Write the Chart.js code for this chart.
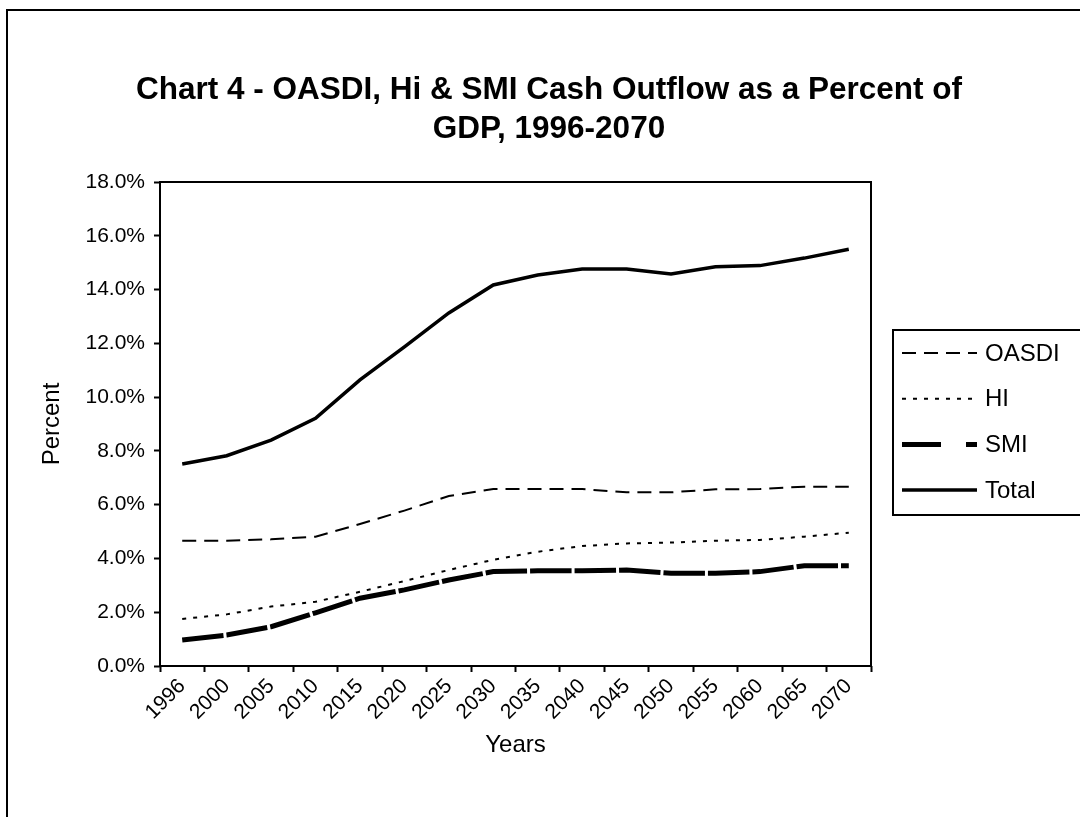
<!DOCTYPE html>
<html>
<head>
<meta charset="utf-8">
<title>Chart 4 - OASDI, Hi &amp; SMI Cash Outflow as a Percent of GDP, 1996-2070</title>
<script src="https://cdn.jsdelivr.net/npm/chart.js@4.4.1/dist/chart.umd.min.js"></script>
<style>
    html, body { margin: 0; padding: 0; background: #fff; }
    #wrap { width: 1080px; height: 817px; }
</style>
</head>
<body>
<div id="wrap"><canvas id="chart" width="1080" height="817"></canvas></div>
<script>
// Values, percent of GDP
const years = ['1996', '2000', '2005', '2010', '2015', '2020', '2025', '2030',
               '2035', '2040', '2045', '2050', '2055', '2060', '2065', '2070'];
const oasdi = [4.66, 4.66, 4.71, 4.81, 5.28, 5.78, 6.32, 6.58, 6.58, 6.58, 6.46, 6.46, 6.57, 6.58, 6.67, 6.67];
const hi    = [1.75, 1.92, 2.21, 2.39, 2.76, 3.16, 3.57, 3.95, 4.25, 4.46, 4.56, 4.59, 4.66, 4.69, 4.81, 4.96];
const smi   = [0.97, 1.15, 1.46, 1.98, 2.52, 2.83, 3.20, 3.51, 3.54, 3.54, 3.57, 3.45, 3.45, 3.51, 3.73, 3.73];
const total = [7.51, 7.82, 8.40, 9.21, 10.64, 11.87, 13.13, 14.17, 14.54, 14.76, 14.76, 14.58, 14.85, 14.89, 15.17, 15.50];

const titleLines = ['Chart 4 - OASDI, Hi & SMI Cash Outflow as a Percent of', 'GDP, 1996-2070'];

const FONT = '"Liberation Sans", Arial, Helvetica, sans-serif';

// Excel style decorations: outer frame, plot box, title and legend box
const excelFrame = {
    id: 'excelFrame',
    beforeDraw(chart) {
        const ctx = chart.ctx;
        ctx.save();
        ctx.fillStyle = '#fff';
        ctx.fillRect(0, 0, chart.width, chart.height);
        ctx.strokeStyle = '#000';
        ctx.lineWidth = 2;
        ctx.strokeRect(7, 10, chart.width + 20, chart.height + 20);
        ctx.restore();
    },
    afterDraw(chart) {
        const ctx = chart.ctx;
        const a = chart.chartArea;
        ctx.save();
        ctx.strokeStyle = '#000';
        ctx.lineWidth = 2;
        ctx.strokeRect(a.left, a.top, a.right - a.left, a.bottom - a.top);

        // title
        ctx.fillStyle = '#000';
        ctx.font = 'bold 31.5px ' + FONT;
        ctx.textAlign = 'center';
        ctx.textBaseline = 'alphabetic';
        titleLines.forEach((t, i) => ctx.fillText(t, 549, 99 + i * 39));

        // legend
        ctx.lineWidth = 2;
        ctx.strokeRect(893, 330, 300, 185);
        ctx.font = '24px ' + FONT;
        ctx.textAlign = 'left';
        ctx.textBaseline = 'middle';
        chart.data.datasets.forEach((ds, i) => {
            const y = 353 + i * 45.7;
            ctx.beginPath();
            ctx.lineWidth = ds.borderWidth;
            ctx.setLineDash(ds.legendDash || ds.borderDash || []);
            ctx.moveTo(902, y);
            ctx.lineTo(977, y);
            ctx.stroke();
            ctx.setLineDash([]);
            ctx.fillText(ds.label, 985, y + 1);
        });
        ctx.restore();
    }
};

new Chart(document.getElementById('chart'), {
    type: 'line',
    data: {
        labels: years,
        datasets: [
            { label: 'OASDI', data: oasdi, borderColor: '#000', borderWidth: 2, borderDash: [14, 8] },
            { label: 'HI', data: hi, borderColor: '#000', borderWidth: 2, borderDash: [4, 7] },
            { label: 'SMI', data: smi, borderColor: '#000', borderWidth: 5, borderDash: [41.5, 3], legendDash: [39, 25] },
            { label: 'Total', data: total, borderColor: '#000', borderWidth: 3.5 }
        ]
    },
    options: {
        responsive: false,
        animation: false,
        layout: { padding: { left: 0, top: 182, right: 209, bottom: 0 } },
        elements: {
            point: { radius: 0, hoverRadius: 0 },
            line: { tension: 0, fill: false }
        },
        plugins: {
            legend: { display: false },
            title: { display: false },
            tooltip: { enabled: false }
        },
        scales: {
            x: {
                type: 'category',
                offset: true,
                grid: {
                    offset: true,
                    drawOnChartArea: false,
                    drawTicks: true,
                    tickLength: 6,
                    tickWidth: 2,
                    tickColor: '#000'
                },
                border: { display: false },
                ticks: {
                    autoSkip: false,
                    minRotation: 45,
                    maxRotation: 45,
                    padding: 2,
                    color: '#000',
                    font: { family: FONT, size: 21 }
                },
                title: {
                    display: true,
                    text: 'Years',
                    color: '#000',
                    font: { family: FONT, size: 24 },
                    padding: { top: 0, bottom: 57.6 }
                },
                afterFit(scale) { scale.height = 151; }
            },
            y: {
                min: 0,
                max: 18,
                grid: {
                    drawOnChartArea: false,
                    drawTicks: true,
                    tickLength: 6,
                    tickWidth: 2,
                    tickColor: '#000'
                },
                border: { display: false },
                ticks: {
                    stepSize: 2,
                    padding: 9,
                    color: '#000',
                    font: { family: FONT, size: 21 },
                    callback: v => v.toFixed(1) + '%'
                },
                title: {
                    display: true,
                    text: 'Percent',
                    color: '#000',
                    font: { family: FONT, size: 24 },
                    padding: { top: 37.6, bottom: 0 }
                },
                afterFit(scale) { scale.width = 160; }
            }
        }
    },
    plugins: [excelFrame]
});
</script>
</body>
</html>
